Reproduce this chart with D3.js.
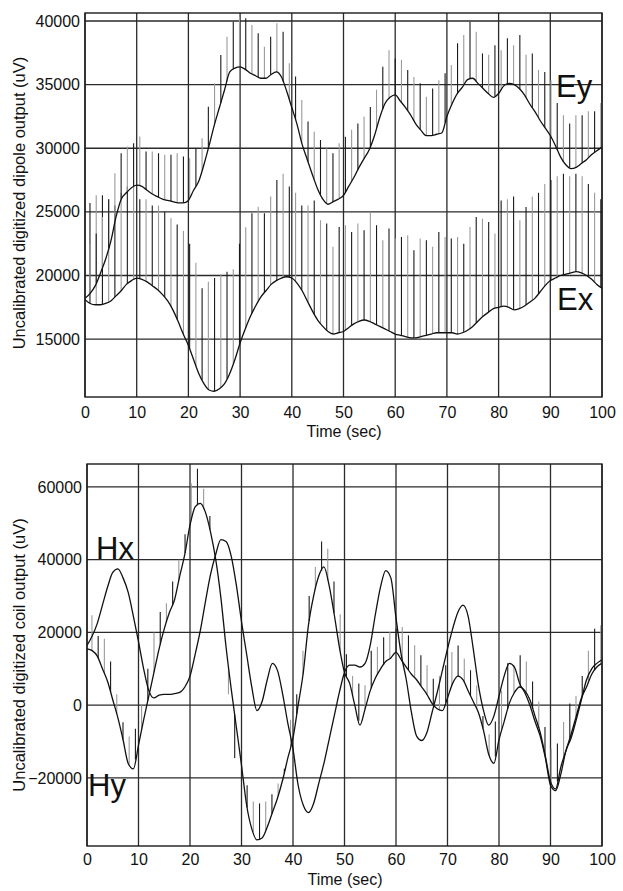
<!DOCTYPE html>
<html>
<head>
<meta charset="utf-8">
<script src="https://cdn.jsdelivr.net/npm/d3@7"></script>
<style>
  body { margin: 0; background: #fff; }
  svg { display: block; }
  text { font-family: "Liberation Sans", Arial, Helvetica, sans-serif; fill: #111; }
</style>
</head>
<body>
<div id="chart"></div>
<script>
// sample times (sec) of the smooth traces
const seconds = [0,1,2,3,4,5,6,7,8,9,10,11,12,13,14,15,16,17,18,19,20,21,22,23,24,25,26,27,28,29,30,
  31,32,33,34,35,36,37,38,39,40,41,42,43,44,45,46,47,48,49,50,51,52,53,54,55,56,57,58,59,60,
  61,62,63,64,65,66,67,68,69,70,71,72,73,74,75,76,77,78,79,80,81,82,83,84,85,86,87,88,89,90,
  91,92,93,94,95,96,97,98,99,100];

// electric dipoles (uV)
const ey = [18200,18600,19200,20200,21300,22700,24600,26000,26500,26900,
  27100,27000,26700,26400,26200,26000,25900,25800,25700,25700,
  25900,26700,27400,28700,30200,31800,33200,34600,36000,36300,
  36400,36200,35900,35700,35500,35500,35800,36000,35600,34500,
  33200,31900,30300,29100,27900,26800,26000,25600,25800,26000,
  26300,27000,27700,28500,29200,29900,31000,32400,33500,34000,
  34200,33700,33200,32600,31900,31400,31000,31000,31100,31200,
  32500,33500,34300,34800,35400,35500,35100,34700,34300,34000,
  34300,34900,35100,35000,34700,34200,33500,32900,32200,31600,
  31000,30200,29300,28700,28400,28500,28800,29100,29500,29800,30100];

const ex = [18100,17800,17700,17700,17800,18000,18400,18800,19300,19600,
  19800,19700,19500,19200,18900,18500,18000,17300,16400,15400,
  14500,13400,12300,11500,11000,10900,11100,11500,12300,13400,
  14700,15800,16800,17600,18300,18800,19300,19600,19800,19900,
  19800,19400,18800,18000,17200,16500,16000,15600,15400,15500,
  15600,15900,16200,16400,16500,16400,16200,16000,15800,15600,
  15400,15300,15200,15100,15100,15200,15300,15400,15500,15500,
  15500,15500,15400,15500,15700,16000,16400,16800,17100,17400,
  17500,17600,17500,17300,17400,17600,17900,18200,18700,19200,
  19600,19800,20000,20100,20200,20300,20200,20000,19700,19300,19000];

// induction coils (uV)
const hx = [16400,19000,22500,27500,32500,36500,37500,35000,31000,24500,
  17500,10000,4000,2000,2800,3000,3000,3200,3500,5000,
  8000,14000,20500,28500,36000,41500,45500,45000,41000,33000,
  23000,14000,5000,-1500,1000,7000,11500,9500,3000,-5000,
  -12000,-22000,-27500,-29500,-27000,-21500,-16000,-9500,-3000,3500,
  9000,11000,11000,10500,11500,16500,25000,32500,37000,35000,
  24000,14000,7000,-2000,-8500,-9700,-7500,-2000,3500,9500,
  15500,21000,25500,27500,24500,15500,5500,-1500,-5500,-3000,
  2500,8000,11500,10500,6000,3500,0,-4500,-8500,-14500,
  -22000,-23500,-19000,-12500,-9000,-4000,1500,7000,10000,11500,12500];

const hy = [15500,15000,13500,10000,6500,1500,-3500,-9500,-16000,-17500,
  -11000,-4000,2500,9000,15500,21000,25500,29000,35500,41500,
  49500,54500,55500,53000,47500,40000,29500,16000,4500,-6000,
  -16500,-27500,-34000,-37000,-36500,-33500,-29500,-25500,-20500,-14500,
  -9000,0,9000,22000,30000,35500,38000,33000,25000,16000,
  9000,6000,0,-5500,-1000,4000,7500,10000,12000,13000,
  14500,12500,10500,8500,7000,5000,3000,500,-1000,-1500,
  2000,6000,8000,7000,4000,1000,-2000,-7000,-13500,-16000,
  -9500,-4500,500,3500,5000,4000,1500,-3000,-7500,-14000,
  -21000,-23000,-17000,-12500,-8000,-3000,2000,5000,8500,10500,11500];

// times of the periodic spikes (sec)
const spikeTimes = [0.96,2.17,3.37,4.58,5.78,6.99,8.19,9.40,10.60,11.81,
  13.01,14.22,15.42,16.63,17.83,19.04,20.24,21.45,22.65,23.86,
  25.06,26.27,27.47,28.68,29.88,31.09,32.29,33.50,34.70,35.91,
  37.11,38.32,39.52,40.73,41.93,43.14,44.34,45.55,46.75,47.96,
  49.16,50.37,51.57,52.78,53.98,55.19,56.39,57.60,58.80,60.01,
  61.21,62.42,63.62,64.83,66.03,67.24,68.44,69.65,70.85,72.06,
  73.26,74.47,75.67,76.88,78.08,79.29,80.49,81.70,82.90,84.11,
  85.31,86.52,87.72,88.93,90.13,91.34,92.54,93.75,94.95,96.16,
  97.36,98.57,99.77];

// value each spike reaches (uV), null = no spike
const eySpikeEnd = [22500,23300,24600,26000,28040,29610,30130,30400,30920,29740,
  29740,29610,29480,29480,29610,29350,29220,30000,30790,33270,
  35110,37330,38770,39950,40340,40210,39690,39030,37980,38770,
  39820,39160,36680,35630,33800,32100,31300,30650,30000,29600,
  30400,30900,31450,31950,32500,33250,34600,36400,37700,37050,
  36950,36150,35600,35100,34050,34700,35350,35900,36550,38250,
  38900,39950,39150,37450,37350,38100,37700,38650,38100,38900,
  37350,37450,36150,36000,35350,33550,32600,31950,32600,32600,
  32900,32900,33550];

const exSpikeEnd = [25700,26300,26300,26000,25500,26500,27000,27500,26000,26000,
  25500,25500,25000,24500,24000,23500,22500,21000,19000,19500,
  19800,20100,20300,20500,22500,23800,24900,25400,24900,26200,
  27500,28000,27000,26500,25500,25500,25900,24340,24080,22250,
  23810,23950,23420,24080,23560,24990,23950,22770,23690,22900,
  23030,23160,21990,22900,22770,22250,23420,23030,22900,23030,
  22500,23810,24600,24470,24210,23300,25900,26000,26200,24340,
  25390,26200,26500,27200,27500,27800,28000,27800,28000,27800,
  27200,26500,26000];

const hySpikeEnd = [24700,19000,18300,12000,3000,-4700,-8600,-6500,0,10000,
  20000,25600,28000,34000,40000,47000,61000,65000,59500,52000,
  null,null,3000,-14500,null,-22000,-26500,-27000,-26500,-24500,
  -21500,-17500,-4000,3000,15000,30000,38000,45000,43000,34000,
  25000,14000,8000,6000,5500,15000,16000,18700,20100,21000,
  21500,19200,16500,13700,11000,7300,8000,11000,14600,16400,
  12800,9600,5400,-3000,-8000,-4500,4000,11500,11000,13700,
  12000,6500,1000,-6000,-12000,-10500,-4600,500,2500,8000,
  15000,21000,22000];

const timeTicks = [0,10,20,30,40,50,60,70,80,90,100];
const eTicks = [15000,20000,25000,30000,35000,40000];
const hTicks = [-20000,0,20000,40000,60000];

const width = 623;
const height = 891;

const svg = d3.select("#chart").append("svg")
  .attr("width", width)
  .attr("height", height);

// curve value at an arbitrary time (spike foot sits on the trace)
function valueAt(series, t) {
  const i = Math.min(Math.floor(t), seconds.length - 2);
  const f = t - seconds[i];
  return series[i] + (series[i + 1] - series[i]) * f;
}

function drawPanel(p) {
  const x = d3.scaleLinear().domain([0, 100]).range([p.left, p.right]);
  const y = d3.scaleLinear().domain(p.yDomain).range([p.bottom, p.top]);
  const g = svg.append("g");

  g.append("clipPath").attr("id", p.id + "-clip")
    .append("rect")
    .attr("x", p.left).attr("y", p.top)
    .attr("width", p.right - p.left).attr("height", p.bottom - p.top);

  // grid
  g.append("g").selectAll("line").data(timeTicks).join("line")
    .attr("x1", d => x(d)).attr("x2", d => x(d))
    .attr("y1", p.top).attr("y2", p.bottom)
    .attr("stroke", "#2a2a2a").attr("stroke-width", 1.3);
  g.append("g").selectAll("line").data(p.yTicks).join("line")
    .attr("x1", p.left).attr("x2", p.right)
    .attr("y1", d => y(d)).attr("y2", d => y(d))
    .attr("stroke", "#2a2a2a").attr("stroke-width", 1.3);

  const plot = g.append("g").attr("clip-path", `url(#${p.id}-clip)`);

  // spikes
  p.series.forEach((s, si) => {
    if (!s.spikes) return;
    const pts = spikeTimes.map((t, k) => ({ t, k, base: valueAt(s.values, t), end: s.spikes[k] }))
      .filter(d => d.end !== null);
    plot.append("g").selectAll("line").data(pts).join("line")
      .attr("x1", d => x(d.t)).attr("x2", d => x(d.t))
      .attr("y1", d => y(d.base)).attr("y2", d => y(d.end))
      .attr("stroke", d => ((d.k + si) % 2 ? "#9a9a9a" : "#1a1a1a"))
      .attr("stroke-width", 1.1);
  });

  // traces
  const line = d3.line()
    .x((d, i) => x(seconds[i]))
    .y(d => y(d))
    .curve(d3.curveMonotoneX);
  p.series.forEach(s => {
    plot.append("path")
      .attr("d", line(s.values))
      .attr("fill", "none")
      .attr("stroke", "#111")
      .attr("stroke-width", 1.3);
  });

  // frame
  g.append("rect")
    .attr("x", p.left).attr("y", p.top)
    .attr("width", p.right - p.left).attr("height", p.bottom - p.top)
    .attr("fill", "none").attr("stroke", "#1a1a1a").attr("stroke-width", 1.4);

  // axes
  const xAxis = g.append("g")
    .attr("transform", `translate(0,${p.bottom})`)
    .call(d3.axisBottom(x).tickValues(timeTicks).tickSize(0).tickPadding(p.xPad).tickFormat(d3.format("d")));
  const yAxis = g.append("g")
    .attr("transform", `translate(${p.left},0)`)
    .call(d3.axisLeft(y).tickValues(p.yTicks).tickSize(0).tickPadding(5).tickFormat(d3.format("d")));
  [xAxis, yAxis].forEach(a => {
    a.select(".domain").remove();
    a.selectAll("text").style("font-size", "16px").attr("fill", "#111")
      .style("font-family", '"Liberation Sans", Arial, sans-serif');
  });

  g.append("text")
    .attr("x", (p.left + p.right) / 2 + 0.5)
    .attr("y", p.timeY)
    .attr("text-anchor", "middle")
    .style("font-size", "16px")
    .text("Time (sec)");

  g.append("text")
    .attr("transform", `translate(25,${p.titleY}) rotate(-90)`)
    .attr("text-anchor", "middle")
    .style("font-size", "16.5px")
    .text(p.title);

  p.labels.forEach(l => {
    g.append("text")
      .attr("x", l.x).attr("y", l.y)
      .style("font-size", "31px")
      .text(l.text);
  });
}

drawPanel({
  id: "e",
  left: 85, right: 602, top: 13, bottom: 397,
  yDomain: [10450, 40630],
  yTicks: eTicks,
  xPad: 10,
  timeY: 437,
  titleY: 203,
  title: "Uncalibrated digitized dipole output (uV)",
  series: [
    { values: ex, spikes: exSpikeEnd },
    { values: ey, spikes: eySpikeEnd }
  ],
  labels: [
    { text: "Ey", x: 556, y: 97 },
    { text: "Ex", x: 557, y: 310 }
  ]
});

drawPanel({
  id: "h",
  left: 87, right: 602, top: 464, bottom: 846,
  yDomain: [-38700, 66300],
  yTicks: hTicks,
  xPad: 8,
  timeY: 885,
  titleY: 655,
  title: "Uncalibrated digitized coil output (uV)",
  series: [
    { values: hx, spikes: null },
    { values: hy, spikes: hySpikeEnd }
  ],
  labels: [
    { text: "Hx", x: 96, y: 559 },
    { text: "Hy", x: 88, y: 796 }
  ]
});
</script>
</body>
</html>
